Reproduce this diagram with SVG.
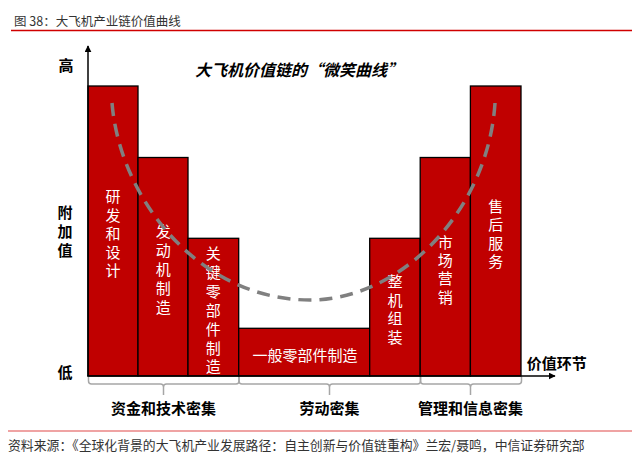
<svg xmlns="http://www.w3.org/2000/svg" width="640" height="461" viewBox="0 0 640 461">
<style>
text{font-family:"Noto Sans CJK SC","Liberation Sans",sans-serif;}
.bar{fill:#c00000;stroke:#000;stroke-width:1.3;}
.bl{fill:#fff;font-size:15px;text-anchor:middle;}
.ax{stroke:#000;stroke-width:1.5;fill:none;}
.lbl{fill:#000;font-size:15px;font-weight:bold;text-anchor:middle;}
.br{stroke:#a6a6a6;stroke-width:1.5;fill:none;}
</style>
<defs>
<marker id="ah" viewBox="0 0 10 10" refX="9" refY="5" markerWidth="7" markerHeight="7" markerUnits="userSpaceOnUse" orient="auto"><path d="M0,0 L10,5 L0,10 z" fill="#000"/></marker>
</defs>
<rect width="640" height="461" fill="#fff"/>
<text x="14" y="26" font-size="12.5" fill="#333">图 38：大飞机产业链价值曲线</text>
<line x1="11" y1="30.5" x2="632" y2="30.5" stroke="#d00000" stroke-width="1.5"/>
<text x="299" y="76" font-size="16" font-weight="bold" font-style="italic" text-anchor="middle" fill="#000">大飞机价值链的“微笑曲线”</text>
<g id="bar-rd">
<rect class="bar" x="88" y="86" width="50" height="290"/>
<text class="bl"><tspan x="113" y="202.4">研</tspan><tspan x="113" dy="18.4">发</tspan><tspan x="113" dy="18.4">和</tspan><tspan x="113" dy="18.4">设</tspan><tspan x="113" dy="18.4">计</tspan></text>
</g>
<g id="bar-engine">
<rect class="bar" x="138" y="157.5" width="50" height="218.5"/>
<text class="bl"><tspan x="163.3" y="237.4">发</tspan><tspan x="163.3" dy="18.8">动</tspan><tspan x="163.3" dy="18.8">机</tspan><tspan x="163.3" dy="18.8">制</tspan><tspan x="163.3" dy="18.8">造</tspan></text>
</g>
<g id="bar-keyparts">
<rect class="bar" x="188" y="238.3" width="50.7" height="137.7"/>
<text class="bl"><tspan x="213.3" y="259">关</tspan><tspan x="213.3" dy="18.9">键</tspan><tspan x="213.3" dy="18.9">零</tspan><tspan x="213.3" dy="18.9">部</tspan><tspan x="213.3" dy="18.9">件</tspan><tspan x="213.3" dy="18.9">制</tspan><tspan x="213.3" dy="18.9">造</tspan></text>
</g>
<g id="bar-general">
<rect class="bar" x="238.7" y="328.3" width="131" height="47.7"/>
<text class="bl" x="305" y="360.5">一般零部件制造</text>
</g>
<g id="bar-assembly">
<rect class="bar" x="369.7" y="238.3" width="50.5" height="137.7"/>
<text class="bl"><tspan x="395" y="287.4">整</tspan><tspan x="395" dy="18.5">机</tspan><tspan x="395" dy="18.5">组</tspan><tspan x="395" dy="18.5">装</tspan></text>
</g>
<g id="bar-marketing">
<rect class="bar" x="420.2" y="157.5" width="50.2" height="218.5"/>
<text class="bl"><tspan x="445.3" y="248">市</tspan><tspan x="445.3" dy="18.2">场</tspan><tspan x="445.3" dy="18.2">营</tspan><tspan x="445.3" dy="18.2">销</tspan></text>
</g>
<g id="bar-service">
<rect class="bar" x="470.4" y="86" width="50.6" height="290"/>
<text class="bl"><tspan x="495.7" y="211.7">售</tspan><tspan x="495.7" dy="18.4">后</tspan><tspan x="495.7" dy="18.4">服</tspan><tspan x="495.7" dy="18.4">务</tspan></text>
</g>
<g id="connectors">
<path d="M112,103 C120,200 200,300 310,300 C400,300 488,212 495,103" fill="none" stroke="#808080" stroke-width="3.5" stroke-dasharray="13 8"/>
<line class="ax" x1="88" y1="376" x2="88" y2="46" marker-end="url(#ah)"/>
<line class="ax" x1="87.3" y1="376" x2="555" y2="376" marker-end="url(#ah)"/>
<path class="br" d="M88.5,377 V381 Q88.5,384 91.5,384 H160.5 Q163.5,384 163.5,387 V395 M163.5,387 Q163.5,384 166.5,384 H236 Q239,384 239,381 V377"/>
<path class="br" d="M239,377 V381 Q239,384 242,384 H326.5 Q329.5,384 329.5,387 V395 M329.5,387 Q329.5,384 332.5,384 H417.5 Q420.5,384 420.5,381 V377"/>
<path class="br" d="M420.5,377 V381 Q420.5,384 423.5,384 H467.5 Q470.5,384 470.5,387 V395 M470.5,387 Q470.5,384 473.5,384 H518.5 Q521.5,384 521.5,381 V377"/>
</g>
<g id="axis-labels">
<text class="lbl" x="66" y="70.5" font-size="14">高</text>
<text class="lbl" font-size="14"><tspan x="65" y="218">附</tspan><tspan x="65" dy="19">加</tspan><tspan x="65" dy="19">值</tspan></text>
<text class="lbl" x="65" y="378" font-size="14">低</text>
<text class="lbl" x="556.7" y="368.8">价值环节</text>
<text class="lbl" x="163.5" y="413.8">资金和技术密集</text>
<text class="lbl" x="329.5" y="413.8">劳动密集</text>
<text class="lbl" x="470.5" y="413.8">管理和信息密集</text>
</g>
<line x1="8" y1="431" x2="632" y2="431" stroke="#e04848" stroke-width="1.2"/>
<text x="8" y="449.5" font-size="12.85" fill="#333">资料来源：《全球化背景的大飞机产业发展路径：自主创新与价值链重构》兰宏/聂鸣，中信证券研究部</text>
</svg>
